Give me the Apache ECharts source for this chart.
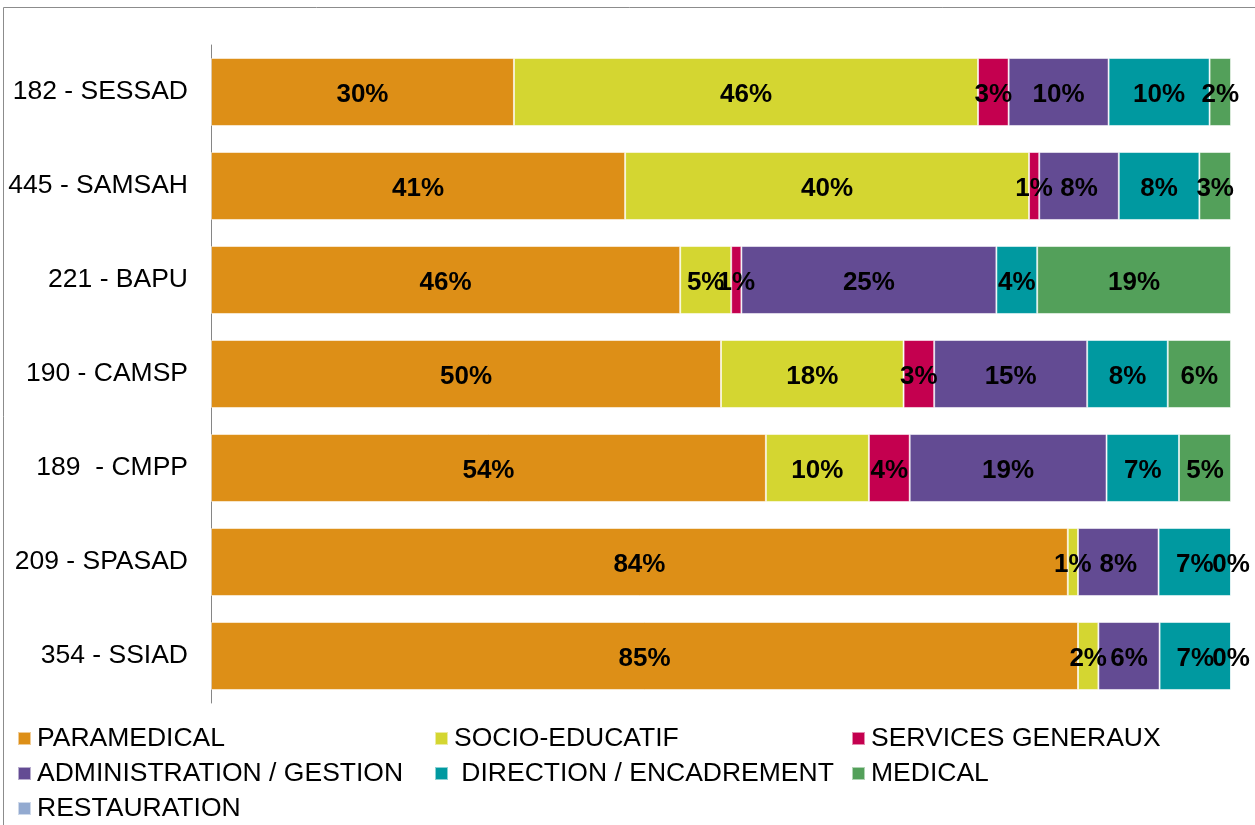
<!DOCTYPE html>
<html>
<head>
<meta charset="utf-8">
<script src="https://cdn.jsdelivr.net/npm/echarts@6/dist/echarts.min.js"></script>
<style>
html,body{margin:0;padding:0;background:#fff;}
#c{width:1255px;height:825px;}
</style>
</head>
<body>
<div id="c"></div>
<script>
const categories = ['182 - SESSAD', '445 - SAMSAH', '221 - BAPU', '190 - CAMSP', '189  - CMPP', '209 - SPASAD', '354 - SSIAD'];
const seriesNames = ['PARAMEDICAL', 'SOCIO-EDUCATIF', 'SERVICES GENERAUX', 'ADMINISTRATION / GESTION', ' DIRECTION / ENCADREMENT', 'MEDICAL', 'RESTAURATION'];
const paramedical   = [29.7, 40.6, 46.0, 50.0, 54.4, 84.0, 85.0];
const socioEducatif = [45.5, 39.6, 5.0, 17.9, 10.1, 1.0, 2.0];
const servicesGen   = [3.0, 1.0, 1.0, 3.0, 4.0, null, null];
const administration= [9.8, 7.8, 25.0, 15.0, 19.3, 7.9, 6.0];
const direction     = [9.9, 7.9, 4.0, 7.9, 7.1, 7.1, 7.0];
const medical       = [2.1, 3.1, 19.0, 6.2, 5.1, 0, 0];
const restauration  = [null, null, null, null, null, null, null];
const colors = ['#DD8F17', '#D4D631', '#C4004F', '#634B93', '#0099A0', '#53A05A', '#93AAD0'];

const allData = [paramedical, socioEducatif, servicesGen, administration, direction, medical, restauration];

const chart = echarts.init(document.getElementById('c'), null, {renderer: 'canvas'});
const font = '"Liberation Sans", Arial, sans-serif';

const series = seriesNames.map((n, i) => ({
  name: n,
  type: 'bar',
  stack: 'total',
  barCategoryGap: '27.7%',
  data: allData[i],
  itemStyle: {color: colors[i], borderColor: 'rgba(255,255,255,0.55)', borderWidth: 1},
  label: {
    show: true,
    position: 'inside',
    offset: [0, 3],
    color: '#000',
    fontWeight: 'bold',
    fontSize: 26,
    fontFamily: font,
    formatter: p => (p.value === null || p.value === undefined) ? '' : Math.round(p.value) + '%'
  },
  emphasis: {disabled: true}
}));

// legend layout: 3 columns, rows
const legendPos = [
  [17, 738], [434, 738], [851, 738],
  [17, 773], [434, 773], [851, 773],
  [17, 808]
];
const legends = seriesNames.map((n, i) => ({
  data: [n],
  left: legendPos[i][0],
  top: legendPos[i][1] - 13,
  padding: 0,
  itemWidth: 13,
  itemHeight: 13,
  itemGap: 0,
  icon: 'rect',
  selectedMode: false,
  textStyle: {color: '#000', fontSize: 26.5, fontFamily: font, padding: [0, 0, 0, 1]}
}));

chart.setOption({
  animation: false,
  backgroundColor: '#fff',
  graphic: [{
    type: 'rect',
    shape: {x: 3.5, y: 7.5, width: 1400, height: 1000},
    style: {fill: 'none', stroke: '#8c8c8c', lineWidth: 1},
    silent: true, z: -1
  }],
  grid: {left: 211, right: 24, top: 45, height: 658, containLabel: false},
  xAxis: {
    type: 'value', min: 0, max: 100, show: false
  },
  yAxis: {
    type: 'category',
    data: categories,
    inverse: true,
    axisLine: {show: true, lineStyle: {color: '#868686', width: 1}},
    axisTick: {show: false},
    axisLabel: {color: '#000', fontSize: 26.5, fontFamily: font, margin: 23, padding: [4, 0, 0, 0]}
  },
  legend: legends,
  series: series
});
</script>
</body>
</html>
